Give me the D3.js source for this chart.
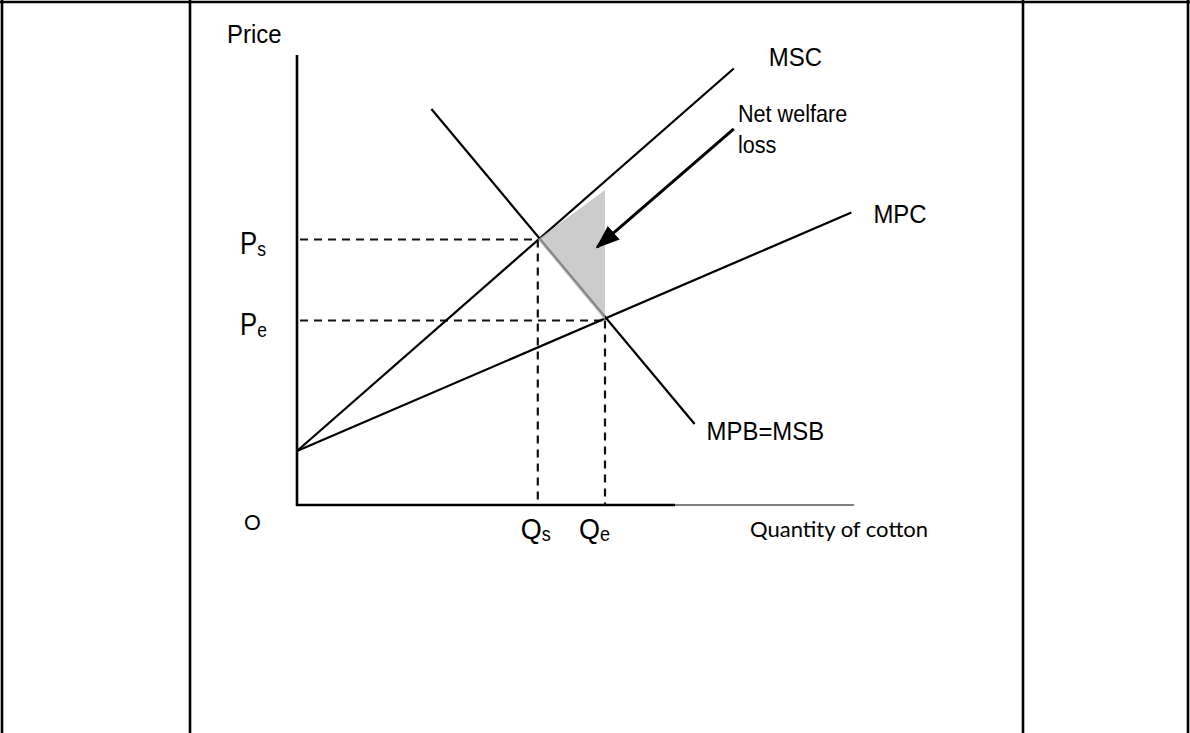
<!DOCTYPE html>
<html>
<head>
<meta charset="utf-8">
<script src="https://cdn.jsdelivr.net/npm/d3@7"></script>
<style>
  body { margin: 0; background: #fff; }
  svg text { fill: #000; }
  .lbl { font-family: "Liberation Sans", Arial, sans-serif; }
  .cal { font-family: Lato, "Open Sans", sans-serif; }
</style>
</head>
<body>
<div id="chart"></div>
<script>
// curves in (quantity, price) units
const mscPoints = [[0, 12], [78, 97]];
const mpcPoints = [[0, 12], [99, 65]];
const mpbPoints = [[24, 88], [71, 18]];
const curveLabels = ["MSC", "MPC", "MPB=MSB"];

// social optimum and market equilibrium
const quantities = [43, 55];          // Qs, Qe
const prices = [59, 41];              // Ps, Pe
const qLabels = [["Q", "s"], ["Q", "e"]];
const pLabels = [["P", "s"], ["P", "e"]];

// shaded deadweight loss and arrow pointing at it
const welfareLoss = [[43, 59], [55, 70], [55, 41]];
const arrowPoints = [[78, 83.6], [53.6, 57.3]];
const annotation = ["Net welfare", "loss"];

var width = 1190, height = 733;

var svg = d3.select("#chart").append("svg")
    .attr("width", width)
    .attr("height", height);

// narrow-looking Arial text: squeeze it horizontally
function narrowText(px, py, size, sx) {
    return svg.append("text").attr("class", "lbl")
        .attr("transform", `translate(${px},${py}) scale(${sx},1)`)
        .attr("font-size", size);
}

// table frame around the diagram
var frame = svg.append("g").attr("stroke", "#000").attr("stroke-width", 2.6);
frame.append("line").attr("x1", 0).attr("x2", width).attr("y1", 2).attr("y2", 2);
[2, 190, 1023, 1188].forEach(x => {
    frame.append("line").attr("x1", x).attr("x2", x).attr("y1", 0).attr("y2", height);
});

var x = d3.scaleLinear().domain([0, 100]).range([297, 857]);
var y = d3.scaleLinear().domain([0, 100]).range([505, 55]);

var line = d3.line().x(d => x(d[0])).y(d => y(d[1]));

// axes
svg.append("line")
    .attr("x1", x(0)).attr("x2", x(0))
    .attr("y1", y(100)).attr("y2", y(0) + 1)
    .attr("stroke", "#000").attr("stroke-width", 2.6);
svg.append("line")
    .attr("x1", x(0) - 1).attr("x2", x(67.5))
    .attr("y1", y(0)).attr("y2", y(0))
    .attr("stroke", "#000").attr("stroke-width", 2.6);
svg.append("line")
    .attr("x1", x(67.5)).attr("x2", x(99.5))
    .attr("y1", y(0)).attr("y2", y(0))
    .attr("stroke", "#555").attr("stroke-width", 1.4);

narrowText(227, 43, 26, 0.92).text("Price");

svg.append("text").attr("class", "cal")
    .attr("x", x(0) - 53).attr("y", y(0) + 25)
    .attr("font-size", 21)
    .text("O");

svg.append("text").attr("class", "cal")
    .attr("x", 750).attr("y", y(0) + 32)
    .attr("font-size", 22)
    .text("Quantity of cotton");

// dashed guides
var guides = svg.append("g")
    .attr("stroke", "#111")
    .attr("stroke-width", 2.2)
    .attr("stroke-dasharray", "8,6");

quantities.forEach((q, i) => {
    guides.append("line")
        .attr("x1", x(0) + 3).attr("x2", x(q))
        .attr("y1", y(prices[i])).attr("y2", y(prices[i]));
    guides.append("line")
        .attr("x1", x(q)).attr("x2", x(q))
        .attr("y1", y(prices[i])).attr("y2", y(0));
});

// curves
var curves = [mscPoints, mpcPoints, mpbPoints];
svg.append("g")
    .selectAll("path")
    .data(curves)
    .enter()
    .append("path")
    .attr("d", line)
    .attr("fill", "none")
    .attr("stroke", "#000")
    .attr("stroke-width", 2.2);

// welfare loss triangle, laid over the lines so they turn grey inside
svg.append("path")
    .attr("d", line(welfareLoss) + "Z")
    .attr("fill", "#b8b8b8")
    .attr("fill-opacity", 0.72);

// curve labels
narrowText(x(mscPoints[1][0]) + 35, y(mscPoints[1][1]) - 3, 26, 0.92).text(curveLabels[0]);
narrowText(x(mpcPoints[1][0]) + 22, y(mpcPoints[1][1]) + 10, 26, 0.92).text(curveLabels[1]);
narrowText(x(mpbPoints[1][0]) + 12, y(mpbPoints[1][1]) + 16, 26, 0.92).text(curveLabels[2]);

// arrow
svg.append("defs").append("marker")
    .attr("id", "head")
    .attr("markerUnits", "userSpaceOnUse")
    .attr("viewBox", "0 0 24 18")
    .attr("refX", 22).attr("refY", 9)
    .attr("markerWidth", 24).attr("markerHeight", 18)
    .attr("orient", "auto")
    .append("path")
    .attr("d", "M0,0 L24,9 L0,18 Z")
    .attr("fill", "#000");

svg.append("path")
    .attr("d", line(arrowPoints))
    .attr("stroke", "#000")
    .attr("stroke-width", 3)
    .attr("marker-end", "url(#head)");

narrowText(738, 122, 24, 0.9)
    .selectAll("tspan")
    .data(annotation)
    .enter()
    .append("tspan")
    .attr("x", 0)
    .attr("y", (d, i) => i * 31)
    .text(d => d);

// P and Q labels with subscripts
pLabels.forEach((p, i) => {
    var t = narrowText(x(0) - 57, y(prices[i]) + 14, 31, 0.83);
    t.append("tspan").text(p[0]);
    t.append("tspan").attr("font-size", 21).attr("dy", 2).text(p[1]);
});

qLabels.forEach((q, i) => {
    var t = narrowText(x(quantities[i]) - 17 - i * 9, y(0) + 34, 30, 0.9);
    t.append("tspan").text(q[0]);
    t.append("tspan").attr("font-size", 20).attr("dy", 2).text(q[1]);
});
</script>
</body>
</html>
